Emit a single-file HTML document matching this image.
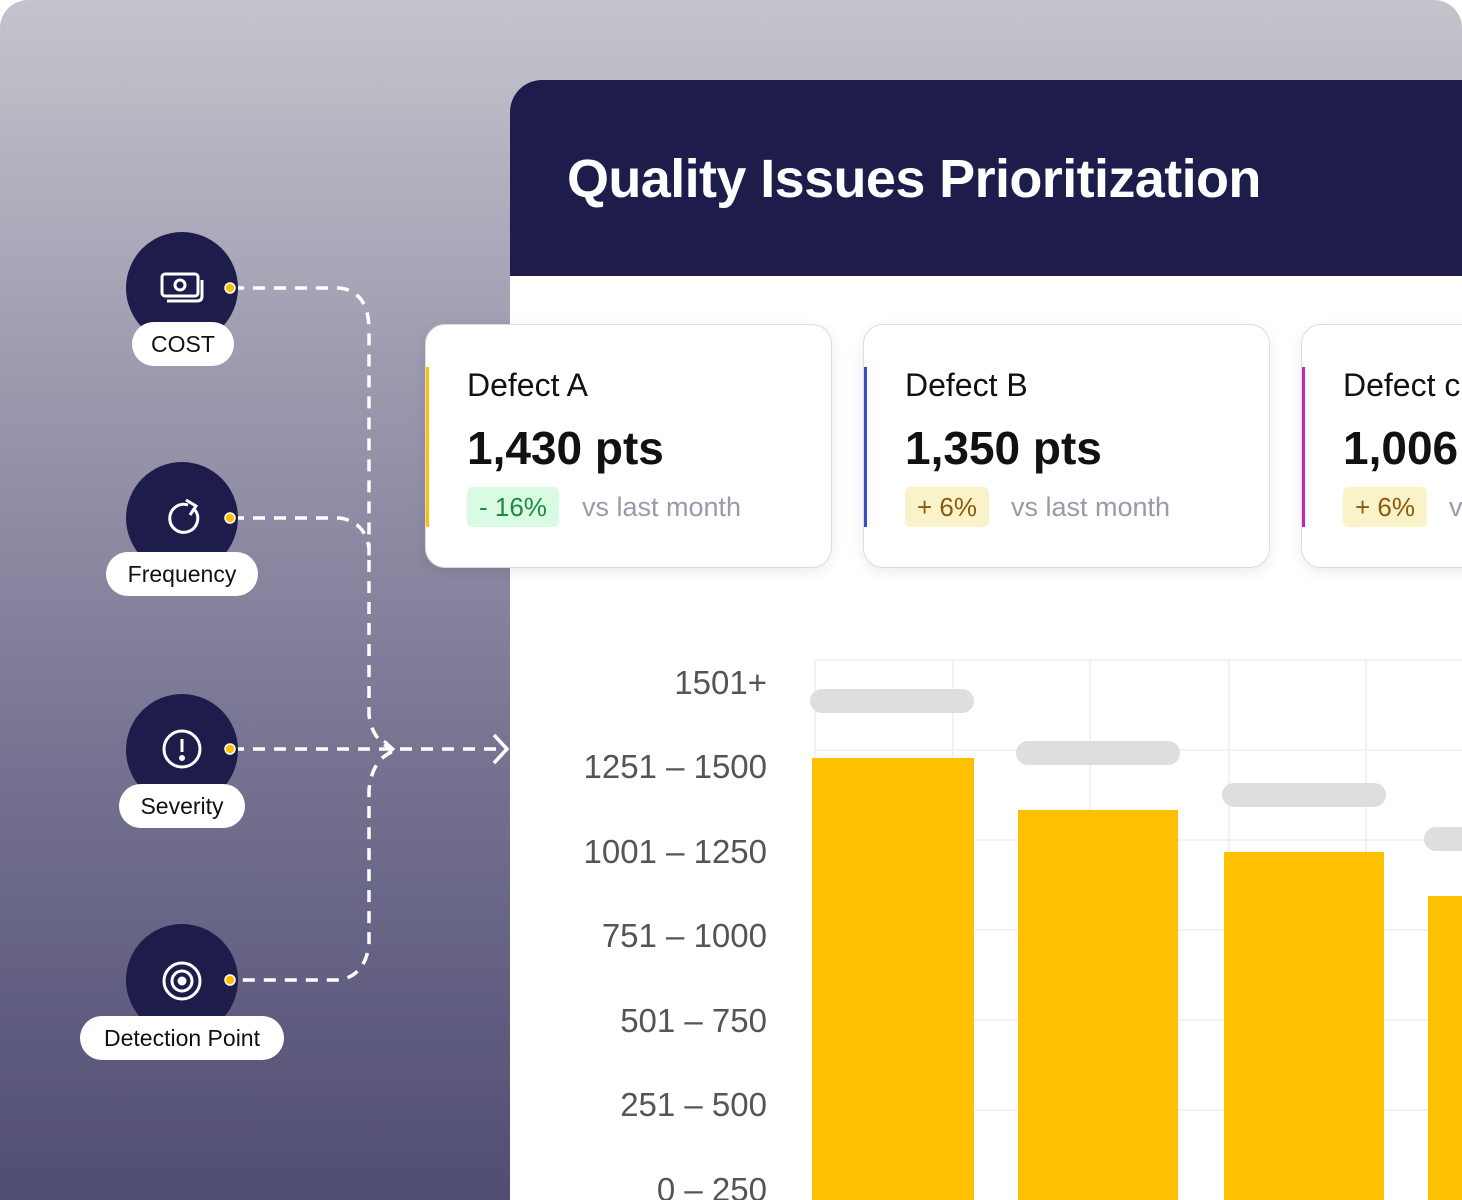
<!DOCTYPE html>
<html><head><meta charset="utf-8"><style>
*{margin:0;padding:0;box-sizing:border-box}
html,body{width:1462px;height:1200px;overflow:hidden}
body{background:#fff;font-family:"Liberation Sans",sans-serif;position:relative}
#bg{position:absolute;left:0;top:0;width:1462px;height:1200px;border-radius:28px 28px 0 0;background:linear-gradient(180deg,#c5c4cc 0%,#9e9bb0 30%,#747190 65%,#4f4d72 100%)}
.a{position:absolute}
.panel{left:510px;top:80px;width:952px;height:1120px;background:#fff;border-radius:32px 0 0 0;overflow:hidden}
.hdr{left:0;top:0;width:952px;height:196px;background:#1d1c4b}
.title{left:57px;top:68px;color:#fff;font-size:54px;font-weight:bold;letter-spacing:-0.6px;white-space:nowrap}
.circ{width:112px;height:112px;border-radius:50%;background:#1d1c4b}
.pill{background:#fff;border-radius:22px;height:44px;font-size:23px;color:#111;text-align:center;line-height:44px}
.cardwrap{position:absolute;left:0;top:0;width:1462px;height:1200px;overflow:hidden}
.card{position:absolute;width:407px;height:244px;background:#fff;border-radius:20px;border:1px solid #ddd;box-shadow:0 4px 14px rgba(0,0,0,0.08);overflow:hidden}
.bar4{position:absolute;left:0;top:42px;width:3px;height:160px}
.cn{position:absolute;left:41px;top:42px;font-size:32px;color:#111;white-space:nowrap}
.cv{position:absolute;left:41px;top:96px;font-size:46px;font-weight:bold;color:#111;white-space:nowrap}
.bd{position:absolute;left:41px;top:162px;height:40px;border-radius:5px;font-size:26px;line-height:40px;padding:0 12px}
.vs{position:absolute;top:162px;line-height:40px;font-size:27px;color:#9a99ab;white-space:nowrap}
.yl{position:absolute;right:695px;font-size:33px;color:#555;text-align:right;white-space:nowrap}
.yb{background:#fec000;position:absolute}
.gp{background:#dedee0;position:absolute;height:24px;border-radius:12px}
</style></head><body>
<div id="bg"></div>
<div class="a panel">
 <div class="a hdr"></div>
 <div class="a title">Quality Issues Prioritization</div>
</div>
<svg class="a" style="left:0;top:0" width="1462" height="1200">
 <g stroke="#f2f2f4" stroke-width="2" fill="none">
  <line x1="815" y1="660" x2="1462" y2="660"/><line x1="815" y1="750" x2="1462" y2="750"/>
  <line x1="815" y1="840" x2="1462" y2="840"/><line x1="815" y1="930" x2="1462" y2="930"/>
  <line x1="815" y1="1020" x2="1462" y2="1020"/><line x1="815" y1="1110" x2="1462" y2="1110"/>
  <line x1="815" y1="660" x2="815" y2="1200"/><line x1="953" y1="660" x2="953" y2="1200"/>
  <line x1="1090" y1="660" x2="1090" y2="1200"/><line x1="1229" y1="660" x2="1229" y2="1200"/>
  <line x1="1366" y1="660" x2="1366" y2="1200"/>
 </g>
 <g stroke="#fff" stroke-width="3.5" fill="none" stroke-dasharray="12 9">
  <path d="M232 288 H340 Q369 292 369 330 V560"/>
  <path d="M232 518 H340 Q365 522 369 548"/>
  <path d="M232 749 H506"/>
  <path d="M369 560 V715 Q372 740 392 749"/>
  <path d="M392 752 Q372 760 369 790 V945 Q365 975 340 980 H232"/>
 </g>
 <path d="M494 735 L507 749 L494 763" stroke="#fff" stroke-width="3.5" fill="none"/>
 <path d="M384 741 L393 749 L384 757" stroke="#fff" stroke-width="3" fill="none"/>
</svg>
<div class="a circ" style="left:126px;top:232px"></div>
<div class="a circ" style="left:126px;top:462px"></div>
<div class="a circ" style="left:126px;top:694px"></div>
<div class="a circ" style="left:126px;top:924px"></div>
<svg class="a" style="left:0;top:0" width="300" height="1100" fill="none" stroke="#fff" stroke-width="3">
 <rect x="162" y="274" width="36" height="22" rx="3"/><circle cx="180" cy="285" r="5"/>
 <path d="M202 280 V296 Q202 301 197 301 H167"/>
 <path d="M195 510 A14 14 0 1 1 188 505"/><path d="M186 500 L196 506 L190 515"/>
 <circle cx="182" cy="749" r="18"/><line x1="182" y1="739" x2="182" y2="752"/><circle cx="182" cy="758" r="1.5" fill="#fff"/>
 <circle cx="182" cy="981" r="18"/><circle cx="182" cy="981" r="10"/><circle cx="182" cy="981" r="3" fill="#fff"/>
 <g fill="#fec000" stroke="#fff" stroke-width="1.5"><circle cx="230" cy="288" r="5"/><circle cx="230" cy="518" r="5"/><circle cx="230" cy="749" r="5"/><circle cx="230" cy="980" r="5"/></g>
</svg>
<div class="a pill" style="left:132px;top:322px;width:102px">COST</div>
<div class="a pill" style="left:106px;top:552px;width:152px">Frequency</div>
<div class="a pill" style="left:119px;top:784px;width:126px">Severity</div>
<div class="a pill" style="left:80px;top:1016px;width:204px">Detection Point</div>
<div class="cardwrap">
<div class="card" style="left:425px;top:324px"><div class="bar4" style="background:#fec000"></div><div class="cn">Defect A</div><div class="cv">1,430 pts</div><div class="bd" style="background:#d9fbe3;color:#1e8a3e">- 16%</div><div class="vs" style="left:156px">vs last month</div></div>
<div class="card" style="left:863px;top:324px"><div class="bar4" style="background:#3b4bc8"></div><div class="cn">Defect B</div><div class="cv">1,350 pts</div><div class="bd" style="background:#faf3c9;color:#8a5a10">+ 6%</div><div class="vs" style="left:147px">vs last month</div></div>
<div class="card" style="left:1301px;top:324px"><div class="bar4" style="background:#c026c0"></div><div class="cn">Defect c</div><div class="cv">1,006 pts</div><div class="bd" style="background:#faf3c9;color:#8a5a10">+ 6%</div><div class="vs" style="left:147px">vs last month</div></div>
</div>
<div class="yl" style="top:664px">1501+</div>
<div class="yl" style="top:748px">1251 – 1500</div>
<div class="yl" style="top:833px">1001 – 1250</div>
<div class="yl" style="top:917px">751 – 1000</div>
<div class="yl" style="top:1002px">501 – 750</div>
<div class="yl" style="top:1086px">251 – 500</div>
<div class="yl" style="top:1171px">0 – 250</div>
<div class="gp" style="left:810px;top:689px;width:164px"></div>
<div class="gp" style="left:1016px;top:741px;width:164px"></div>
<div class="gp" style="left:1222px;top:783px;width:164px"></div>
<div class="gp" style="left:1424px;top:827px;width:38px;border-radius:12px 0 0 12px"></div>
<div class="yb" style="left:812px;top:758px;width:162px;height:442px"></div>
<div class="yb" style="left:1018px;top:810px;width:160px;height:390px"></div>
<div class="yb" style="left:1224px;top:852px;width:160px;height:348px"></div>
<div class="yb" style="left:1428px;top:896px;width:34px;height:304px"></div>
</body></html>
